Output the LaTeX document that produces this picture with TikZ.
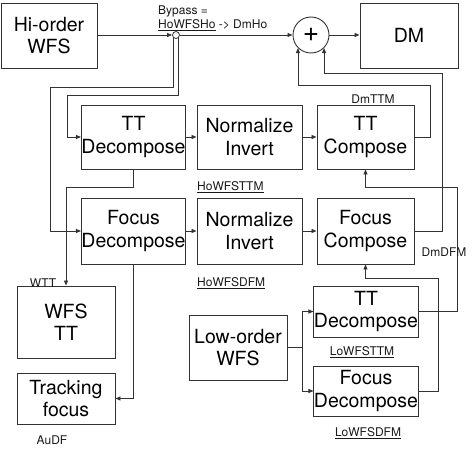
\documentclass[tikz,border=0pt]{standalone}
\usepackage{fontspec}
\setmainfont{TeX Gyre Heros}
\usetikzlibrary{arrows.meta}
\begin{document}
\begin{tikzpicture}[x=1pt,y=-1pt,
  ln/.style={draw=black!80,line width=0.85pt},
  arr/.style={ln,-{Triangle[length=5pt,width=4pt]}},
  blk/.style={draw=black!80,line width=0.9pt,inner sep=0pt,align=center,
    font=\fontsize{19.5}{22.5}\selectfont,text=black},
  lbl/.style={inner sep=0pt,font=\fontsize{12}{14.5}\selectfont,text=black!90}]
\useasboundingbox (0,0) rectangle (474,452);
% boxes
\node[blk,minimum width=96pt,minimum height=65pt] (hi) at (49,35.5) {Hi-order\\WFS};
\node[blk,minimum width=98pt,minimum height=65pt] (dm) at (409,35.5) {DM};
\node[blk,minimum width=97pt,minimum height=64pt] (ttd) at (133.5,137) {TT\\Decompose};
\node[blk,minimum width=105pt,minimum height=64pt] (ni1) at (249.5,137) {Normalize\\Invert};
\node[blk,minimum width=97pt,minimum height=64pt] (ttc) at (365.5,137) {TT\\Compose};
\node[blk,minimum width=97pt,minimum height=66pt] (fd) at (133.5,231) {Focus\\Decompose};
\node[blk,minimum width=105pt,minimum height=66pt] (ni2) at (249.5,231) {Normalize\\Invert};
\node[blk,minimum width=97pt,minimum height=66pt] (fc) at (365.5,231) {Focus\\Compose};
\node[blk,minimum width=98pt,minimum height=72pt] (wfstt) at (66,322) {WFS\\TT};
\node[blk,minimum width=98pt,minimum height=51pt] (track) at (66,398.5) {Tracking\\focus};
\node[blk,minimum width=98pt,minimum height=65pt] (low) at (238,347.5) {Low-order\\WFS};
\node[blk,minimum width=98pt,minimum height=51pt] (lttd) at (366,311.5) {TT\\Decompose};
\node[blk,minimum width=98pt,minimum height=50pt] (lfd) at (366,391) {Focus\\Decompose};
% sum and junction
\node[blk,circle,minimum size=36pt,font=\fontsize{28}{28}\selectfont] (sum) at (311,35) {+};
\node[draw=black!80,line width=0.8pt,circle,fill=white,minimum size=7pt,inner sep=0pt] (jn) at (176,35) {};
\coordinate (split) at (302,347.5);
% connectors
\draw[arr] (hi.east |- jn) -- (jn.west);
\draw[arr] (jn.east) -- (sum.west);
\draw[arr] (jn.south west) |- (50,87) |- (fd.west);
\draw[arr] (jn.south east) |- (67,95) |- (ttd.west);
\draw[arr] (ttd.east) -- (ni1.west);
\draw[arr] (ni1.east) -- (ttc.west);
\draw[arr] (fd.east) -- (ni2.west);
\draw[arr] (ni2.east) -- (fc.west);
\draw[arr] (ttc.east) -| (430,85) -| (sum.south west);
\draw[arr] (fc.east) -| (442,73) -| (sum.south east);
\draw[arr] (sum.east) -- (sum.east -| dm.west);
\draw[arr] (ttd.south) |- (66,187) -- (wfstt.north);
\draw[arr] (fd.south) |- (track.east);
\draw[ln] (low.east) -- (split);
\draw[arr] (split) |- (lttd.west);
\draw[arr] (split) |- (lfd.west);
\draw[arr] (lttd.east) -| (457,187) -| (ttc.south);
\draw[arr] (lfd.east) -| (438,278) -| (fc.south);
% labels
\node[lbl,anchor=west,align=left] (byp) at (158,18) {Bypass =\\\underline{HoWFSHo} -> DmHo};
\node[lbl] (dmttm) at (373,99) {DmTTM};
\node[lbl,anchor=west] (howfsttm) at (197,187) {\underline{HoWFSTTM}};
\node[lbl,anchor=west] (howfsdfm) at (197,283) {\underline{HoWFSDFM}};
\node[lbl] (dmdfm) at (444,252) {DmDFM};
\node[lbl] (wtt) at (43,283) {WTT};
\node[lbl] (audf) at (52,440) {AuDF};
\node[lbl] (lowfsttm) at (362,352) {\underline{LoWFSTTM}};
\node[lbl] (lowfsdfm) at (368,433) {\underline{LoWFSDFM}};
\end{tikzpicture}
\end{document}
